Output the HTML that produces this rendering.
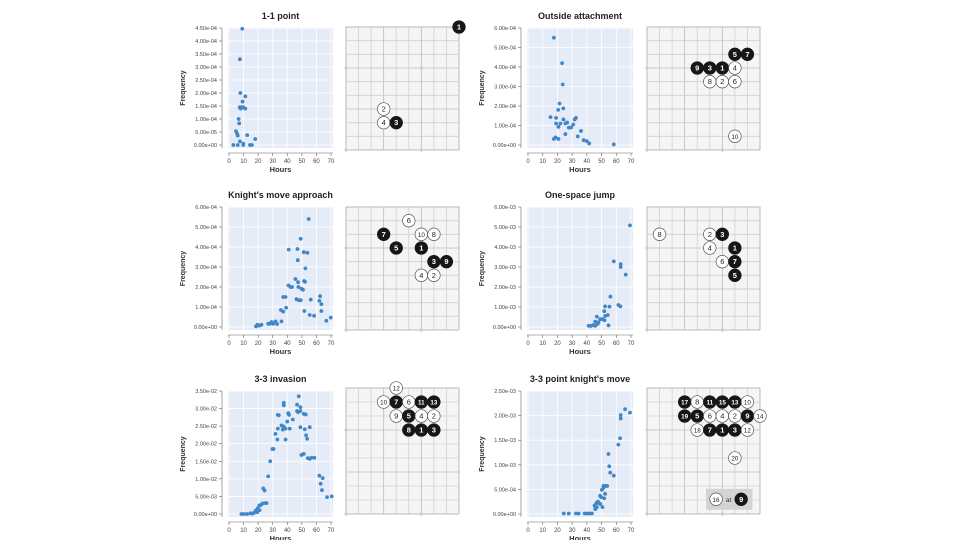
<!DOCTYPE html>
<html><head><meta charset="utf-8"><style>
html,body{margin:0;padding:0;background:#fff;}
svg{display:block;font-family:"Liberation Sans",sans-serif;}
</style></head><body>
<svg id="c" width="960" height="540" viewBox="0 0 960 540"></svg>
<script>
// ---- data ----
const titles=["1-1 point","Outside attachment","Knight's move approach","One-space jump","3-3 invasion","3-3 point knight's move"];
const yMax=[4.5e-4,6e-4,6e-4,6e-3,3.5e-2,2.5e-3];
const yStep=[0.5e-4,1e-4,1e-4,1e-3,0.5e-2,0.5e-3];
const xTicks=[0,10,20,30,40,50,60,70];
const hours1=[9.1,7.5,7.8,11.2,9.3,7.3,8.4,9.8,11.2,8,6.6,7,4.8,5.5,6,12.5,18,7.5,9.8,9.8,3,6,14.4,15.7];
const freq1=[4.47,3.3,2.0,1.87,1.67,1.45,1.45,1.45,1.4,1.4,1.0,0.83,0.53,0.44,0.36,0.38,0.23,0.14,0.05,0,0,0,0,0].map(v=>v*1e-4);
const hours2=[17.6,23.2,23.6,21.4,24,20.5,15.3,19.1,24.1,32.6,31.7,19.1,22,25.4,26.6,20.7,27.7,29.3,30.8,25.4,36,33.8,18.7,17.6,20.7,37.8,40,41.6,58.3];
const freq2=[5.5,4.2,3.1,2.13,1.88,1.8,1.43,1.39,1.31,1.39,1.31,1.1,1.1,1.1,1.15,0.93,0.89,0.9,1.05,0.56,0.72,0.44,0.39,0.31,0.31,0.25,0.2,0.08,0.03].map(v=>v*1e-4);
const hours3=[54.7,49.2,41,47,51.3,53.8,47.2,52.4,45.6,47.4,51.5,52.2,40.8,42.2,43.3,47.6,49.7,50.8,37.2,38.8,62.5,62,63.4,46.3,47.9,49.2,56.1,39.2,35.6,37.2,51.7,63.4,55.4,58.4,69.8,66.8,31.9,36,29.2,28,30.3,33,26.9,19.4,22.3,20.8,18.5];
const freq3=[5.4,4.41,3.87,3.9,3.74,3.71,3.34,2.93,2.4,2.24,2.3,2.26,2.08,2.0,2.0,2.0,1.91,1.86,1.5,1.5,1.54,1.31,1.14,1.39,1.34,1.34,1.37,0.96,0.85,0.77,0.8,0.8,0.6,0.56,0.47,0.31,0.28,0.28,0.25,0.16,0.16,0.15,0.16,0.11,0.11,0.07,0.03].map(v=>v*1e-4);
const hours4=[69.3,58.3,63,63,66.4,56,61.4,62.8,52.4,55.4,51.8,46.8,52.4,54.2,49,50.6,52,45.7,47.9,47.3,44.3,45.7,54.7,41.2,42.8];
const freq4=[5.08,3.28,3.14,3.0,2.62,1.52,1.1,1.03,1.03,1.02,0.79,0.52,0.55,0.6,0.39,0.39,0.34,0.27,0.23,0.15,0.1,0.06,0.08,0.06,0.05].map(v=>v*1e-3);
const hours5=[47.9,37.6,37.6,46.7,49,46.7,47.4,49,33.5,34.2,40.7,41.2,51.3,52.7,43.8,40,36,37.6,36.9,38.8,33.5,41.7,49,55.4,52,52.9,53.6,31.9,33.2,38.8,29.8,30.5,49.7,51.3,54.1,55.4,56.6,58.6,28.3,26.9,62,64.3,62.9,63.8,67.3,70.5,23.5,24.4,24.9,25.8,23,21.9,20.8,19.7,21,18.3,19.4,17.1,14.8,12.5,10.3,8.5,16];
const freq5=[3.35,3.16,3.09,3.11,3.04,2.93,2.9,2.93,2.82,2.81,2.87,2.82,2.85,2.83,2.69,2.63,2.52,2.49,2.4,2.43,2.43,2.43,2.47,2.47,2.41,2.24,2.14,2.28,2.12,2.12,1.85,1.85,1.68,1.71,1.59,1.57,1.6,1.6,1.5,1.07,1.09,1.02,0.86,0.68,0.48,0.5,0.73,0.67,0.31,0.31,0.3,0.26,0.24,0.16,0.11,0.1,0.05,0.03,0.02,0,0,0,0.01].map(v=>v*1e-2);
const hours6=[66,69.3,63,63,62.6,61.4,54.7,55.2,55.9,58.3,51.3,52.4,53.8,50.2,51.3,52.4,51.8,49,49.7,46.4,47.5,48.4,49.2,45.2,46.8,45.7,50.6,24.3,27.7,32.6,34.4,38.5,40,43.4,41.6];
const freq6=[2.13,2.06,2.01,1.94,1.54,1.41,1.22,0.97,0.84,0.78,0.57,0.57,0.57,0.49,0.53,0.41,0.32,0.37,0.34,0.22,0.25,0.22,0.2,0.17,0.14,0.1,0.14,0.01,0.01,0.01,0.01,0.01,0.01,0.01,0.01].map(v=>v*1e-3);
const hoursAll=[hours1,hours2,hours3,hours4,hours5,hours6];
const freqAll=[freq1,freq2,freq3,freq4,freq5,freq6];
// stones: [col,row,label,isBlack]
const stones1=[[9,0,"1",1],[3,6,"2",0],[3,7,"4",0],[4,7,"3",1]];
const stones2=[[7,2,"5",1],[8,2,"7",1],[4,3,"9",1],[5,3,"3",1],[6,3,"1",1],[7,3,"4",0],[5,4,"8",0],[6,4,"2",0],[7,4,"6",0],[7,8,"10",0]];
const stones3=[[5,1,"6",0],[3,2,"7",1],[6,2,"10",0],[7,2,"8",0],[4,3,"5",1],[6,3,"1",1],[7,4,"3",1],[8,4,"9",1],[6,5,"4",0],[7,5,"2",0]];
const stones4=[[1,2,"8",0],[5,2,"2",0],[6,2,"3",1],[5,3,"4",0],[7,3,"1",1],[6,4,"6",0],[7,4,"7",1],[7,5,"5",1]];
const stones5=[[4,0,"12",0],[3,1,"10",0],[4,1,"7",1],[5,1,"6",0],[6,1,"11",1],[7,1,"13",1],[4,2,"9",0],[5,2,"5",1],[6,2,"4",0],[7,2,"2",0],[5,3,"8",1],[6,3,"1",1],[7,3,"3",1]];
const stones6=[[3,1,"17",1],[4,1,"8",0],[5,1,"11",1],[6,1,"15",1],[7,1,"13",1],[8,1,"10",0],[3,2,"19",1],[4,2,"5",1],[5,2,"6",0],[6,2,"4",0],[7,2,"2",0],[8,2,"9",1],[9,2,"14",0],[4,3,"18",0],[5,3,"7",1],[6,3,"1",1],[7,3,"3",1],[8,3,"12",0],[7,5,"20",0]];
const stonesAll=[stones1,stones2,stones3,stones4,stones5,stones6];

// ---- layout ----
const colX=[{pl:228,pr:333,bl:346},{pl:527,pr:633,bl:647}];
const rowY=[{t:28,b:148,bt:27,bb:150},{t:207,b:330,bt:207,bb:330},{t:391,b:517,bt:388,bb:514}];
const NS="http://www.w3.org/2000/svg";
const svg=document.getElementById('c');
function mk(tag,attrs,parent){const e=document.createElementNS(NS,tag);for(const k in attrs)e.setAttribute(k,attrs[k]);(parent||svg).appendChild(e);return e;}
function fmt(v){if(v===0)return "0.00e+00";let e=Math.floor(Math.log10(v)+1e-9);let m=v/Math.pow(10,e);return m.toFixed(2)+"e-"+String(-e).padStart(2,"0");}

for(let p=0;p<6;p++){
  const cx=colX[p%2], ry=rowY[Math.floor(p/2)];
  const g=mk('g',{});
  
  
  const L=cx.pl,R=cx.pr,T=ry.t,B=ry.b;
  const xs=h=>L+1+h/70*(R-L-3);
  const ys=v=>(B-3)-v/yMax[p]*(B-3-T);
  const bg=mk('rect',{x:L,y:T,width:R-L,height:B-T,fill:'#e5ecf7'},g);
  
  
  const nT=Math.round(yMax[p]/yStep[p]);
  for(let i=0;i<=nT;i++){
    const v=i*yStep[p],y=ys(v);
    mk('line',{x1:L,x2:R,y1:y,y2:y,stroke:'#fff','stroke-width':0.8},g);
    mk('line',{x1:L-9,x2:L-6,y1:y,y2:y,stroke:'#666','stroke-width':0.6},g);
    const t=mk('text',{x:L-11,y:y+2,'font-size':5.5,'text-anchor':'end',fill:'#444'},g);
    t.textContent=fmt(v);
    
    
  }
  mk('line',{x1:L-6,x2:L-6,y1:T,y2:B,stroke:'#666','stroke-width':0.6},g);
  for(const h of xTicks){
    const x=xs(h);
    mk('line',{x1:x,x2:x,y1:T,y2:B,stroke:'#fff','stroke-width':0.8},g);
    mk('line',{x1:x,x2:x,y1:B+5,y2:B+8,stroke:'#666','stroke-width':0.6},g);
    const t=mk('text',{x:x,y:B+15,'font-size':6,'text-anchor':'middle',fill:'#444'},g);
    t.textContent=h;
    
    
  }
  mk('line',{x1:L,x2:R,y1:B+5,y2:B+5,stroke:'#666','stroke-width':0.6},g);
  const xt=mk('text',{x:(L+R)/2,y:B+24,'font-size':7.5,'font-weight':'bold','text-anchor':'middle',fill:'#333'},g);
  xt.textContent='Hours';
  
  
  const yt=mk('text',{x:0,y:0,'font-size':7,'font-weight':'bold','text-anchor':'middle',fill:'#333',transform:`translate(${L-43},${(T+B)/2}) rotate(-90)`},g);
  yt.textContent='Frequency';
  
  
  const tt=mk('text',{x:(L+R)/2,y:T-9,'font-size':9,'font-weight':'bold','text-anchor':'middle',fill:'#222'},g);
  tt.textContent=titles[p];
  
  
  const hs=hoursAll[p],fs=freqAll[p];
  for(let i=0;i<hs.length;i++){
    const c=mk('circle',{cx:xs(hs[i]),cy:ys(fs[i]),r:1.9,fill:'#3f87c8'},g);
    
    
  }
  // board
  const bl=cx.bl,bw=113,bt=ry.bt,bh=ry.bb-ry.bt;
  const cw=bw/9,rh=bh/9;
  const bd=mk('g',{},g);
  
  
  mk('rect',{x:bl,y:bt,width:bw,height:bh,fill:'#f5f5f5',stroke:'#aaa','stroke-width':0.8},bd);
  for(let i=1;i<9;i++){
    mk('line',{x1:bl+i*cw,x2:bl+i*cw,y1:bt,y2:bt+bh,stroke:i%3==0?'#bbb':'#d0d0d0','stroke-width':0.8},bd);
    mk('line',{x1:bl,x2:bl+bw,y1:bt+i*rh,y2:bt+i*rh,stroke:i%3==0?'#bbb':'#d0d0d0','stroke-width':0.8},bd);
  }
  for(const [c,r] of [[0,3],[6,3],[0,9],[6,9]]) mk('circle',{cx:bl+c*cw,cy:bt+r*rh,r:1.6,fill:'#ccc'},bd);
  if(p===5){
    const bx=mk('rect',{x:bl+cw*4.7,y:bt+rh*7.2,width:cw*3.7,height:rh*1.5,fill:'#d4d4d4'},bd);
    
    
  }
  const st=stonesAll[p].slice();
  if(p===5){st.push([5.5,8,"16",0,1]);st.push([7.5,8,"9",1,1]);}
  for(const s of st){
    const x=bl+s[0]*cw,y=bt+s[1]*rh - (s[4]?rh*0.05:0);
    const c=mk('circle',{cx:x,cy:y,r:6.3,fill:s[3]?'#161616':'#fff',stroke:s[3]?'#161616':'#555','stroke-width':0.7},bd);
    
    
    const t=mk('text',{x:x,y:y+2.5,'font-size':s[2].length>1?6.3:7.5,'text-anchor':'middle','font-weight':s[3]?'bold':'normal',fill:s[3]?'#fff':'#222'},bd);
    t.textContent=s[2];
  }
  if(p===5){
    const t=mk('text',{x:bl+cw*6.5,y:bt+rh*8+2,'font-size':6.5,'text-anchor':'middle',fill:'#333'},bd);
    t.textContent='at';
  }
}
</script>
</body></html>
